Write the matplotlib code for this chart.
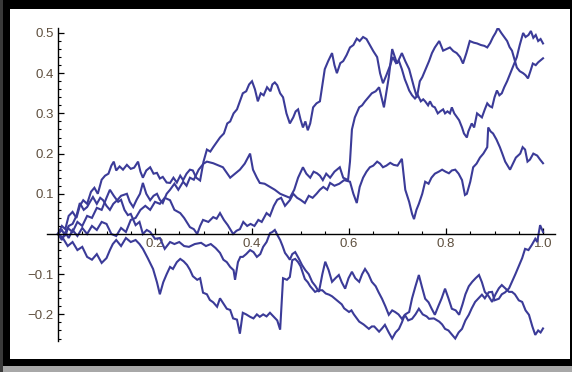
import matplotlib
matplotlib.use("Agg")
import matplotlib.pyplot as plt
from matplotlib.patches import Rectangle
from matplotlib.ticker import MultipleLocator, FixedLocator, FixedFormatter

# Five sample paths, (t, value) pairs
path1_t = [0, .008, .015, .022, .03, .038, .045, .053, .06, .066, .072, .08, .087, .093, .1, .107,
           .114, .122, .13, .142, .148, .155, .162, .169, .175, .182, .19, .197, .204, .21, .216,
           .224, .231, .24, .248, .258, .265, .272, .28, .29, .3, .307, .32, .34, .355, .365, .375,
           .385, .396, .402, .41, .416, .426, .437, .447, .458, .468, .478, .487, .495, .505, .512,
           .52, .527, .534, .54, .546, .553, .561, .57, .581, .588, .598, .602, .606, .612, .621,
           .627, .633, .64, .647, .655, .662, .672, .682, .689, .699, .709, .716, .724, .734, .74,
           .746, .751, .758, .765, .771, .777, .786, .794, .801, .808, .815, .822, .829, .835, .842,
           .849, .857, .864, .872, .879, .885, .891, .897, .902, .907, .914, .92, .926, .931, .936,
           .941, .946, .952, .959, .964, .969, .974, .979, .985, .99, .995, 1.0]
path1_v = [0, .01, -.005, .02, .025, .045, .077, .06, .067, .08, .092, .075, .09, .084, .07, .06,
           .075, .084, .095, .1, .08, .067, .085, .1, .127, .1, .084, .095, .1, .085, .077,
           .1, .11, .125, .11, .13, .12, .14, .135, .16, .175, .18, .176, .166, .14, .15, .16,
           .175, .2, .16, .14, .127, .125, .117, .11, .1, .095, .09, .11, .14, .166, .15,
           .14, .155, .151, .145, .134, .15, .14, .155, .166, .14, .134, .18, .26, .29, .315,
           .32, .33, .34, .35, .355, .365, .315, .39, .46, .424, .45, .43, .41, .365, .34,
           .38, .39, .41, .43, .45, .464, .48, .456, .46, .464, .455, .45, .44, .424, .45,
           .48, .476, .474, .47, .468, .464, .475, .49, .5, .513, .5, .49, .48, .465, .456,
           .435, .414, .405, .4, .395, .387, .405, .424, .42, .427, .432, .437]

path2_t = [0, .008, .015, .022, .03, .038, .045, .052, .06, .068, .075, .082, .09, .097, .104, .11,
           .115, .12, .127, .134, .142, .15, .157, .165, .17, .175, .182, .19, .197, .204, .21,
           .216, .224, .231, .238, .245, .252, .258, .265, .272, .278, .285, .293, .3, .307, .314,
           .32, .327, .334, .342, .349, .355, .362, .369, .375, .381, .388, .394, .4, .406, .412,
           .418, .424, .431, .438, .442, .447, .452, .458, .464, .471, .478, .485, .49, .495, .5,
           .505, .51, .515, .52, .526, .533, .54, .545, .55, .557, .565, .57, .575, .582, .588,
           .595, .602, .609, .616, .622, .629, .636, .643, .65, .658, .664, .67, .677, .685, .69,
           .697, .703, .709, .715, .72, .724, .73, .736, .742, .748, .753, .757, .763, .767, .772,
           .777, .783, .788, .794, .798, .803, .808, .812, .817, .823, .827, .833, .837, .843, .846,
           .853, .858, .864, .869, .874, .88, .885, .89, .895, .9, .905, .91, .915, .92, .926,
           .931, .936, .941, .946, .952, .959, .964, .97, .975, .98, .985, .99, .995, 1.0]
path2_v = [0, .02, .012, .045, .055, .04, .07, .084, .075, .105, .115, .1, .135, .145, .15, .17,
           .18, .158, .168, .16, .172, .162, .165, .18, .155, .14, .158, .166, .15, .152, .138,
           .142, .128, .127, .14, .128, .145, .134, .15, .16, .158, .14, .133, .18, .21, .205,
           .216, .228, .24, .25, .275, .28, .3, .31, .33, .35, .355, .372, .38, .36, .33,
           .35, .345, .365, .355, .372, .377, .37, .35, .34, .3, .275, .29, .305, .31, .285,
           .265, .28, .258, .275, .315, .325, .33, .37, .41, .43, .45, .42, .4, .425, .43,
           .445, .464, .47, .486, .48, .49, .485, .47, .455, .44, .4, .375, .395, .42, .44,
           .425, .43, .41, .385, .37, .357, .345, .337, .345, .33, .335, .33, .32, .33, .318,
           .315, .3, .305, .31, .3, .305, .3, .315, .3, .29, .283, .265, .25, .24, .255,
           .275, .265, .3, .295, .29, .31, .325, .318, .315, .34, .357, .345, .35, .365, .38,
           .395, .41, .425, .44, .47, .5, .49, .495, .505, .488, .495, .48, .485, .474]

path3_t = [0, .008, .015, .022, .03, .04, .05, .06, .07, .08, .09, .1, .11, .12, .13, .14, .15,
           .16, .17, .18, .19, .2, .21, .22, .231, .24, .252, .26, .272, .28, .287, .293, .299,
           .31, .32, .327, .334, .342, .35, .361, .368, .375, .382, .39, .397, .405, .413, .42,
           .43, .437, .445, .452, .46, .468, .478, .485, .493, .5, .509, .517, .525, .533, .54,
           .547, .555, .561, .57, .58, .59, .602, .609, .616, .622, .629, .636, .643, .65, .658,
           .664, .67, .677, .685, .692, .7, .709, .716, .724, .73, .734, .739, .744, .751, .757,
           .764, .77, .777, .785, .792, .799, .806, .812, .819, .826, .833, .839, .843, .85, .856,
           .863, .87, .877, .885, .887, .892, .897, .904, .911, .916, .922, .927, .932, .938, .944,
           .953, .958, .963, .968, .973, .98, .988, .994, 1.0]
path3_v = [0, -.015, .005, -.01, .01, -.005, .015, 0, .02, .01, .03, .025, 0, -.005, .015, .005, .035,
           .04, .06, .07, .06, .08, .075, .09, .084, .06, .052, .04, .017, .012, 0, .02, .035,
           .03, .042, .038, .052, .035, .022, 0, .008, .012, .03, .02, .025, .02, .035, .03,
           .052, .045, .07, .085, .09, .07, .084, .1, .09, .085, .077, .095, .09, .1, .11,
           .117, .11, .127, .12, .125, .134, .13, .1, .077, .117, .14, .155, .166, .17, .18,
           .175, .166, .17, .177, .172, .17, .187, .11, .08, .05, .037, .06, .075, .1, .13,
           .125, .14, .15, .155, .16, .155, .151, .158, .16, .15, .134, .097, .1, .13, .166,
           .175, .19, .2, .216, .265, .255, .25, .235, .216, .2, .18, .17, .16, .175, .19,
           .2, .216, .21, .18, .185, .2, .195, .185, .176]

path4_t = [0, .01, .02, .03, .04, .05, .06, .07, .08, .09, .1, .107, .115, .124, .13, .137, .144,
           .15, .16, .168, .175, .183, .19, .2, .21, .22, .231, .24, .25, .26, .27, .282, .295,
           .305, .315, .325, .334, .341, .348, .355, .362, .365, .371, .376, .381, .388, .396, .403,
           .41, .417, .423, .43, .437, .442, .447, .452, .458, .463, .468, .473, .478, .483, .489,
           .496, .503, .51, .517, .524, .531, .538, .545, .551, .558, .565, .572, .579, .585, .592,
           .599, .606, .613, .621, .627, .633, .64, .647, .655, .661, .668, .675, .682, .689, .695,
           .702, .709, .716, .724, .73, .737, .744, .75, .757, .764, .77, .777, .784, .791, .798,
           .805, .812, .82, .827, .834, .84, .847, .854, .861, .868, .874, .88, .888, .895, .902,
           .909, .915, .922, .93, .936, .942, .95, .957, .964, .971, .978, .984, .99, .995, 1.0]
path4_v = [0, -.01, .015, .005, .03, .02, .045, .04, .065, .06, .09, .11, .095, .08, .085, .06, .047,
           .05, .022, .03, 0, .01, .005, -.012, -.01, -.037, -.02, -.025, -.02, -.03, -.032, -.025, -.022,
           -.03, -.025, -.035, -.047, -.064, -.07, -.082, -.09, -.114, -.07, -.057, -.057, -.05, -.04, -.045,
           -.057, -.05, -.032, -.02, .002, .005, .01, -.002, -.015, -.03, -.047, -.055, -.064, -.05, -.045,
           -.06, -.077, -.09, -.1, -.119, -.13, -.144, -.1, -.069, -.09, -.119, -.11, -.102, -.12, -.136,
           -.11, -.094, -.11, -.119, -.1, -.087, -.1, -.119, -.13, -.145, -.161, -.18, -.201, -.19, -.194,
           -.2, -.211, -.2, -.194, -.16, -.13, -.102, -.13, -.161, -.17, -.185, -.201, -.18, -.16, -.136,
           -.16, -.186, -.19, -.201, -.175, -.15, -.13, -.119, -.11, -.102, -.12, -.144, -.155, -.169, -.15,
           -.135, -.127, -.135, -.144, -.144, -.15, -.165, -.169, -.19, -.201, -.23, -.251, -.24, -.245, -.235]

path5_t = [0, .01, .02, .03, .04, .05, .06, .07, .08, .09, .1, .107, .113, .12, .13, .14, .15,
           .16, .168, .175, .185, .196, .204, .21, .217, .224, .231, .237, .245, .252, .259, .266,
           .272, .278, .287, .293, .299, .307, .313, .32, .328, .334, .34, .348, .355, .361, .369,
           .375, .381, .388, .396, .403, .41, .416, .423, .43, .437, .444, .452, .458, .464, .472,
           .478, .483, .489, .495, .5, .509, .515, .52, .53, .537, .545, .552, .559, .565, .57,
           .579, .585, .59, .6, .605, .61, .621, .63, .641, .647, .652, .662, .668, .674, .682,
           .689, .696, .703, .709, .715, .722, .73, .737, .744, .752, .76, .765, .775, .786, .792,
           .798, .805, .812, .819, .826, .833, .84, .847, .853, .86, .867, .874, .88, .888, .895,
           .9, .909, .915, .922, .93, .936, .943, .951, .957, .963, .97, .977, .984, .988, .994, 1.0]
path5_v = [0, -.01, -.03, -.02, -.04, -.032, -.057, -.064, -.05, -.072, -.06, -.04, -.025, -.015, -.03, -.01, -.02,
           -.015, -.025, -.037, -.06, -.087, -.12, -.15, -.12, -.1, -.082, -.087, -.07, -.062, -.068, -.077,
           -.089, -.105, -.114, -.11, -.146, -.15, -.164, -.17, -.181, -.16, -.171, -.186, -.189, -.21, -.213,
           -.248, -.196, -.2, -.206, -.21, -.2, -.206, -.2, -.205, -.196, -.205, -.215, -.238, -.11, -.114,
           -.107, -.065, -.062, -.07, -.08, -.112, -.12, -.13, -.144, -.14, -.14, -.148, -.151, -.155, -.16,
           -.169, -.175, -.185, -.194, -.19, -.2, -.218, -.225, -.236, -.23, -.23, -.243, -.235, -.226, -.245,
           -.26, -.245, -.236, -.22, -.201, -.215, -.211, -.2, -.186, -.2, -.205, -.211, -.21, -.218, -.225,
           -.236, -.24, -.25, -.26, -.245, -.236, -.215, -.201, -.185, -.169, -.16, -.151, -.16, -.145, -.144,
           -.165, -.161, -.15, -.145, -.135, -.119, -.1, -.077, -.06, -.037, -.04, -.027, -.012, -.02, .022, .005]

paths = [(path1_t, path1_v), (path2_t, path2_v), (path3_t, path3_v),
         (path4_t, path4_v), (path5_t, path5_v)]

x_tick_labels = ["0.2", "0.4", "0.6", "0.8", "1.0"]
y_tick_labels = ["\u22120.2", "\u22120.1", "0.1", "0.2", "0.3", "0.4", "0.5"]

line_color = "#3b3b98"
label_color = "#5e4f3e"

W, H = 572, 372
fig = plt.figure(figsize=(W / 100, H / 100), dpi=100)
fig.patch.set_facecolor("black")

# framed white panel with a soft shadow strip underneath
fig.add_artist(Rectangle((0, 0), 1, 6 / H, transform=fig.transFigure,
                         facecolor="#a8a8a8", edgecolor="none", zorder=0))
fig.add_artist(Rectangle((0, 0), 3 / W, 1, transform=fig.transFigure,
                         facecolor="#3a3a3a", edgecolor="none", zorder=0))
fig.add_artist(Rectangle((10 / W, 1 - 359 / H), 560 / W, 350 / H,
                         transform=fig.transFigure, facecolor="white",
                         edgecolor="none", zorder=0))

ax = fig.add_axes([47 / W, 1 - 341 / H, 508 / W, 313 / H])
ax.set_facecolor("none")

for t, v in paths:
    ax.plot(t, v, color=line_color, lw=1.5, solid_joinstyle="miter", zorder=2)

ax.set_xlim(-0.0227, 1.0247)
ax.set_ylim(-0.2662, 0.5124)

for side in ("top", "right"):
    ax.spines[side].set_visible(False)
ax.spines["left"].set_position(("data", 0))
ax.spines["bottom"].set_position(("data", 0))
for side in ("left", "bottom"):
    ax.spines[side].set_linewidth(1.0)
    ax.spines[side].set_color("black")
    ax.spines[side].set_zorder(3)

ax.xaxis.set_major_locator(FixedLocator([0.2, 0.4, 0.6, 0.8, 1.0]))
ax.xaxis.set_major_formatter(FixedFormatter(x_tick_labels))
ax.xaxis.set_minor_locator(MultipleLocator(0.05))
ax.yaxis.set_major_locator(FixedLocator([-0.2, -0.1, 0.1, 0.2, 0.3, 0.4, 0.5]))
ax.yaxis.set_major_formatter(FixedFormatter(y_tick_labels))
ax.yaxis.set_minor_locator(MultipleLocator(0.02))

ax.tick_params(which="major", direction="in", length=4, width=0.9, color="black",
               labelsize=9.5, labelcolor=label_color)
ax.tick_params(which="minor", direction="in", length=2.3, width=0.8, color="black")
ax.tick_params(axis="x", pad=3)
ax.tick_params(axis="y", pad=3)
for lab in ax.get_xticklabels() + ax.get_yticklabels():
    lab.set_family("Liberation Sans")

fig.savefig("out.png", dpi=100, facecolor=fig.get_facecolor())
